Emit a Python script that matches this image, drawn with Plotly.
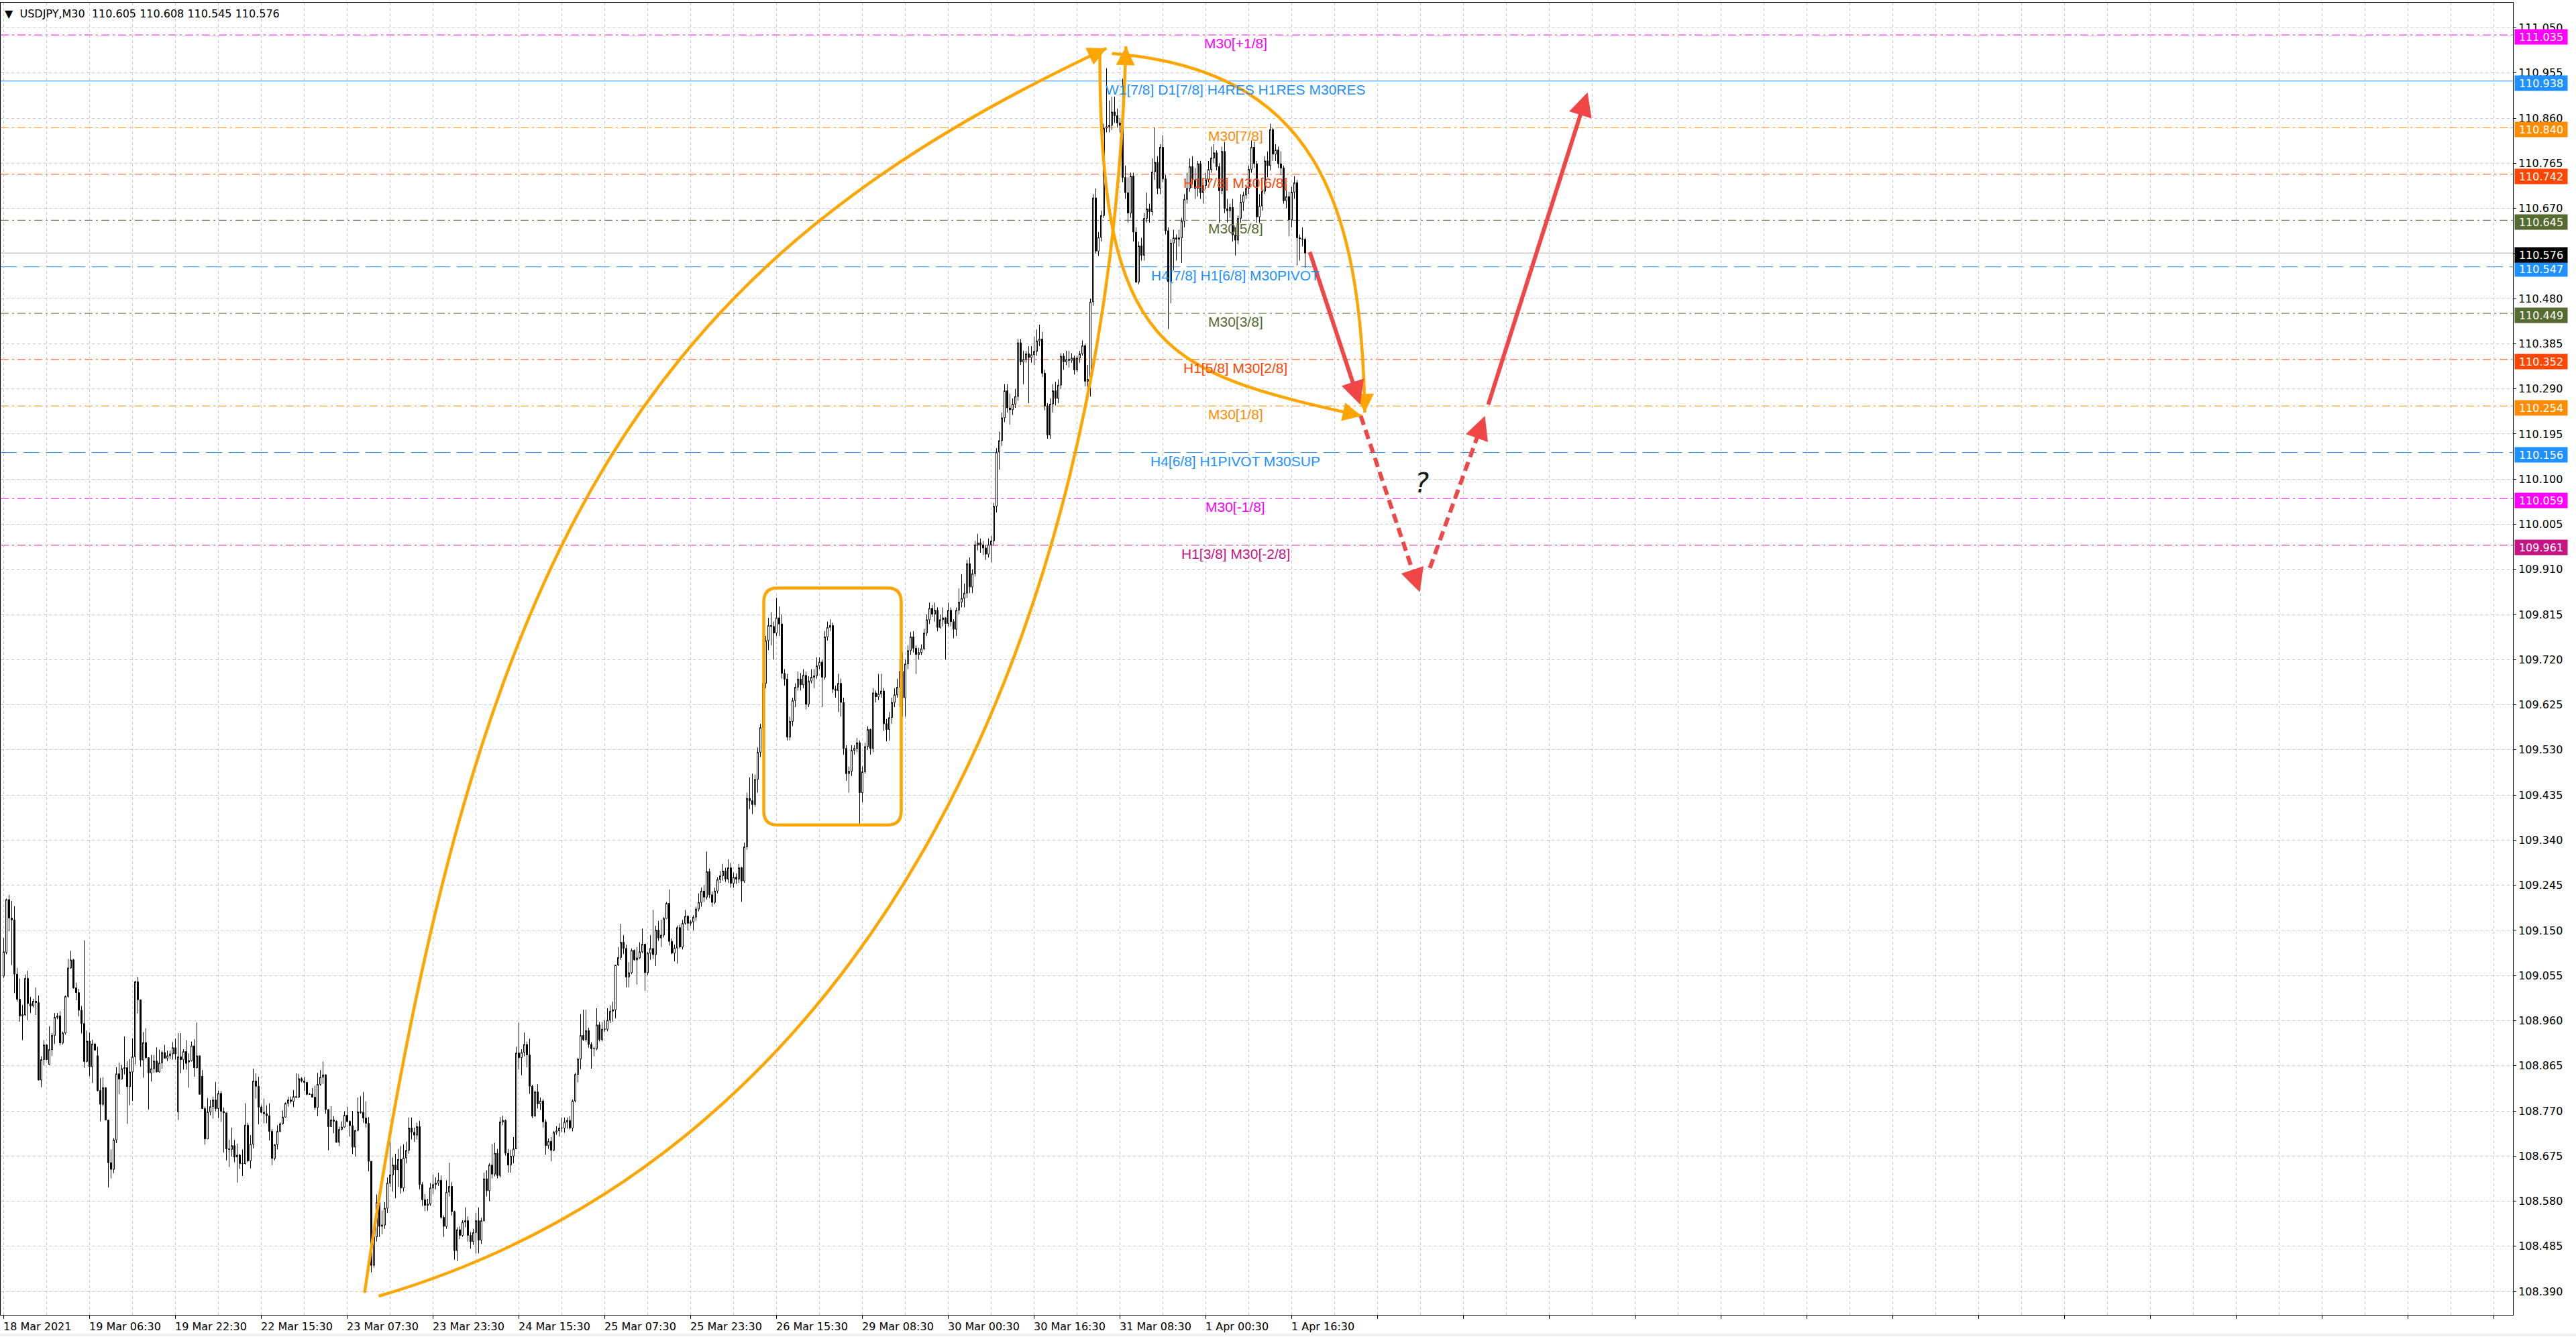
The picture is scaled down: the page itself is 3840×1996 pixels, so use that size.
import math
import plotly.graph_objects as go

# USDJPY M30, bar 0 = first bar on the chart (18 Mar 2021), one bar per 30 minutes
opens = [
    109.054, 109.104, 109.215, 109.176, 109.172, 109.058, 109.005, 108.970, 108.972, 109.049,
    108.996, 108.991, 109.001, 108.998, 108.835, 108.878, 108.909, 108.868, 108.899, 108.929,
    108.967, 108.970, 108.913, 108.934, 109.011, 109.071, 109.088, 109.029, 109.019, 108.982,
    108.954, 108.874, 108.917, 108.863, 108.911, 108.886, 108.813, 108.784, 108.819, 108.751,
    108.661, 108.647, 108.709, 108.848, 108.837, 108.859, 108.861, 108.821, 108.852, 108.884,
    109.042, 109.004, 108.877, 108.914, 108.882, 108.850, 108.859, 108.875, 108.852, 108.871,
    108.893, 108.881, 108.886, 108.890, 108.903, 108.768, 108.884, 108.878, 108.895, 108.873,
    108.876, 108.907, 108.861, 108.886, 108.843, 108.775, 108.711, 108.768, 108.779, 108.793,
    108.775, 108.807, 108.769, 108.766, 108.690, 108.689, 108.697, 108.673, 108.677, 108.659,
    108.659, 108.740, 108.665, 108.700, 108.833, 108.822, 108.778, 108.767, 108.764, 108.760,
    108.727, 108.670, 108.699, 108.727, 108.743, 108.757, 108.786, 108.793, 108.790, 108.800,
    108.799, 108.838, 108.833, 108.830, 108.805, 108.805, 108.799, 108.777, 108.826, 108.841,
    108.846, 108.773, 108.737, 108.751, 108.748, 108.704, 108.731, 108.736, 108.761, 108.748,
    108.739, 108.694, 108.729, 108.768, 108.767, 108.755, 108.744, 108.664, 108.445, 108.505,
    108.577, 108.527, 108.530, 108.565, 108.618, 108.635, 108.656, 108.646, 108.668, 108.608,
    108.671, 108.687, 108.734, 108.725, 108.719, 108.737, 108.615, 108.583, 108.571, 108.574,
    108.608, 108.615, 108.618, 108.624, 108.546, 108.527, 108.599, 108.611, 108.558, 108.476,
    108.520, 108.508, 108.536, 108.539, 108.508, 108.495, 108.514, 108.539, 108.498, 108.539,
    108.627, 108.602, 108.656, 108.637, 108.681, 108.634, 108.747, 108.750, 108.681, 108.656,
    108.675, 108.690, 108.892, 108.882, 108.893, 108.910, 108.888, 108.822, 108.759, 108.810,
    108.785, 108.791, 108.747, 108.697, 108.706, 108.687, 108.725, 108.728, 108.734, 108.734,
    108.747, 108.750, 108.734, 108.791, 108.847, 108.879, 108.929, 108.920, 108.939, 108.910,
    108.901, 108.901, 108.951, 108.920, 108.942, 108.942, 108.961, 108.980, 108.983, 109.077,
    109.093, 109.125, 109.112, 109.052, 109.061, 109.108, 109.088, 109.092, 109.105, 109.121,
    109.061, 109.102, 109.112, 109.099, 109.151, 109.134, 109.140, 109.175, 109.207, 109.127,
    109.102, 109.113, 109.156, 109.115, 109.165, 109.180, 109.165, 109.168, 109.178, 109.195,
    109.209, 109.233, 109.220, 109.274, 109.225, 109.209, 109.233, 109.257, 109.265, 109.275,
    109.258, 109.282, 109.249, 109.262, 109.258, 109.282, 109.254, 109.326, 109.428, 109.423,
    109.415, 109.468, 109.525, 109.577, 109.670, 109.760, 109.792, 109.790, 109.776, 109.808,
    109.795, 109.691, 109.679, 109.557, 109.590, 109.634, 109.662, 109.679, 109.667, 109.687,
    109.626, 109.675, 109.683, 109.686, 109.707, 109.715, 109.683, 109.768, 109.788, 109.792,
    109.658, 109.655, 109.670, 109.630, 109.533, 109.480, 109.485, 109.529, 109.533, 109.545,
    109.440, 109.484, 109.537, 109.573, 109.533, 109.650, 109.642, 109.648, 109.654, 109.585,
    109.573, 109.598, 109.630, 109.646, 109.662, 109.695, 109.640, 109.711, 109.739, 109.768,
    109.744, 109.731, 109.735, 109.743, 109.776, 109.804, 109.828, 109.816, 109.824, 109.788,
    109.804, 109.808, 109.796, 109.824, 109.800, 109.784, 109.824, 109.841, 109.849, 109.860,
    109.922, 109.873, 109.901, 109.962, 109.966, 109.962, 109.955, 109.942, 109.962, 109.970,
    110.043, 110.157, 110.181, 110.229, 110.286, 110.250, 110.246, 110.258, 110.274, 110.387,
    110.347, 110.352, 110.364, 110.356, 110.362, 110.369, 110.391, 110.395, 110.323, 110.254,
    110.193, 110.258, 110.286, 110.270, 110.298, 110.359, 110.347, 110.352, 110.350, 110.355,
    110.330, 110.355, 110.364, 110.381, 110.306, 110.310, 110.473, 110.692, 110.580, 110.609,
    110.655, 110.839, 110.842, 110.845, 110.873, 110.865, 110.850, 110.845, 110.735, 110.703,
    110.660, 110.738, 110.620, 110.515, 110.591, 110.571, 110.649, 110.669, 110.663, 110.747,
    110.767, 110.712, 110.799, 110.732, 110.623, 110.516, 110.597, 110.608, 110.605, 110.608,
    110.643, 110.689, 110.712, 110.758, 110.730, 110.712, 110.764, 110.703, 110.718, 110.730,
    110.752, 110.776, 110.787, 110.758, 110.707, 110.790, 110.669, 110.665, 110.672, 110.614,
    110.603, 110.649, 110.683, 110.698, 110.712, 110.752, 110.799, 110.764, 110.652, 110.675,
    110.706, 110.770, 110.760, 110.836, 110.784, 110.793, 110.764, 110.755, 110.686, 110.695,
    110.646, 110.704, 110.724, 110.608, 110.606, 110.605,
]
highs = [
    109.134, 109.217, 109.225, 109.212, 109.201, 109.071, 109.049, 108.993, 109.057, 109.065,
    109.010, 109.006, 109.030, 109.013, 108.885, 108.919, 108.910, 108.948, 108.934, 108.976,
    108.976, 108.980, 108.937, 109.013, 109.090, 109.107, 109.090, 109.040, 109.027, 108.991,
    109.129, 108.939, 108.935, 108.920, 108.913, 108.905, 108.839, 108.841, 108.819, 108.751,
    108.689, 108.713, 108.862, 108.872, 108.867, 108.927, 108.875, 108.879, 108.923, 109.044,
    109.052, 109.004, 108.936, 108.944, 108.882, 108.888, 108.888, 108.904, 108.899, 108.897,
    108.909, 108.897, 108.897, 108.915, 108.922, 108.934, 108.934, 108.900, 108.919, 108.891,
    108.916, 108.921, 108.956, 108.887, 108.856, 108.779, 108.797, 108.793, 108.800, 108.831,
    108.813, 108.812, 108.777, 108.766, 108.709, 108.735, 108.709, 108.701, 108.680, 108.689,
    108.786, 108.745, 108.719, 108.859, 108.849, 108.842, 108.782, 108.796, 108.782, 108.786,
    108.732, 108.700, 108.740, 108.746, 108.771, 108.788, 108.800, 108.800, 108.814, 108.849,
    108.848, 108.841, 108.841, 108.831, 108.808, 108.818, 108.823, 108.850, 108.856, 108.874,
    108.847, 108.773, 108.780, 108.759, 108.750, 108.737, 108.748, 108.769, 108.779, 108.750,
    108.770, 108.730, 108.798, 108.801, 108.810, 108.790, 108.757, 108.664, 108.520, 108.594,
    108.580, 108.560, 108.578, 108.630, 108.709, 108.672, 108.680, 108.690, 108.696, 108.700,
    108.705, 108.756, 108.756, 108.735, 108.745, 108.749, 108.620, 108.595, 108.585, 108.618,
    108.636, 108.630, 108.640, 108.634, 108.550, 108.624, 108.661, 108.620, 108.560, 108.525,
    108.527, 108.540, 108.567, 108.548, 108.515, 108.522, 108.555, 108.567, 108.545, 108.640,
    108.645, 108.660, 108.700, 108.703, 108.690, 108.757, 108.760, 108.752, 108.690, 108.688,
    108.715, 108.905, 108.956, 108.900, 108.935, 108.916, 108.922, 108.825, 108.813, 108.826,
    108.798, 108.795, 108.752, 108.712, 108.715, 108.728, 108.738, 108.744, 108.756, 108.756,
    108.756, 108.759, 108.794, 108.850, 108.882, 108.974, 108.983, 108.983, 108.945, 108.915,
    108.905, 108.986, 108.957, 108.957, 108.961, 108.986, 108.992, 109.000, 109.077, 109.115,
    109.164, 109.140, 109.120, 109.083, 109.112, 109.110, 109.115, 109.125, 109.154, 109.122,
    109.105, 109.140, 109.193, 109.160, 109.170, 109.172, 109.178, 109.210, 109.236, 109.133,
    109.120, 109.160, 109.162, 109.172, 109.193, 109.182, 109.172, 109.182, 109.200, 109.228,
    109.240, 109.245, 109.316, 109.280, 109.232, 109.240, 109.262, 109.275, 109.290, 109.282,
    109.300, 109.292, 109.272, 109.270, 109.290, 109.284, 109.335, 109.440, 109.472, 109.480,
    109.478, 109.535, 109.585, 109.690, 109.770, 109.808, 109.820, 109.800, 109.850, 109.832,
    109.815, 109.700, 109.690, 109.600, 109.640, 109.670, 109.695, 109.692, 109.700, 109.695,
    109.685, 109.700, 109.700, 109.725, 109.725, 109.720, 109.780, 109.800, 109.805, 109.798,
    109.665, 109.690, 109.680, 109.640, 109.540, 109.495, 109.540, 109.540, 109.555, 109.550,
    109.495, 109.545, 109.580, 109.575, 109.660, 109.655, 109.690, 109.690, 109.660, 109.595,
    109.610, 109.640, 109.660, 109.680, 109.720, 109.735, 109.720, 109.750, 109.778, 109.780,
    109.750, 109.745, 109.752, 109.785, 109.815, 109.840, 109.835, 109.840, 109.830, 109.815,
    109.830, 109.810, 109.840, 109.830, 109.805, 109.830, 109.870, 109.900, 109.880, 109.930,
    109.935, 109.910, 109.970, 109.985, 109.975, 109.970, 109.960, 109.975, 109.980, 110.050,
    110.165, 110.200, 110.240, 110.300, 110.300, 110.280, 110.270, 110.290, 110.395, 110.395,
    110.370, 110.370, 110.380, 110.380, 110.400, 110.415, 110.425, 110.410, 110.330, 110.260,
    110.270, 110.300, 110.305, 110.310, 110.365, 110.365, 110.370, 110.370, 110.365, 110.360,
    110.360, 110.370, 110.392, 110.385, 110.340, 110.480, 110.700, 110.712, 110.620, 110.665,
    110.848, 110.965, 110.897, 110.905, 110.905, 110.880, 110.860, 110.943, 110.760, 110.735,
    110.745, 110.745, 110.630, 110.600, 110.608, 110.660, 110.703, 110.680, 110.775, 110.840,
    110.780, 110.805, 110.824, 110.740, 110.630, 110.605, 110.625, 110.615, 110.625, 110.650,
    110.700, 110.745, 110.775, 110.780, 110.755, 110.770, 110.770, 110.725, 110.745, 110.770,
    110.800, 110.805, 110.792, 110.765, 110.800, 110.810, 110.690, 110.680, 110.690, 110.630,
    110.655, 110.700, 110.705, 110.720, 110.760, 110.813, 110.810, 110.770, 110.700, 110.735,
    110.780, 110.790, 110.848, 110.840, 110.805, 110.800, 110.790, 110.760, 110.720, 110.705,
    110.715, 110.738, 110.730, 110.615, 110.630, 110.608,
]
lows = [
    109.050, 109.100, 109.148, 109.077, 109.018, 109.000, 108.958, 108.919, 108.970, 108.961,
    108.976, 108.988, 108.972, 108.834, 108.820, 108.866, 108.877, 108.867, 108.886, 108.911,
    108.963, 108.908, 108.910, 108.931, 109.008, 109.069, 109.027, 109.003, 108.969, 108.933,
    108.861, 108.872, 108.843, 108.829, 108.897, 108.811, 108.748, 108.780, 108.750, 108.609,
    108.628, 108.639, 108.702, 108.805, 108.836, 108.847, 108.743, 108.782, 108.791, 108.868,
    108.975, 108.863, 108.840, 108.880, 108.773, 108.832, 108.850, 108.851, 108.851, 108.859,
    108.880, 108.875, 108.879, 108.878, 108.878, 108.751, 108.849, 108.857, 108.857, 108.819,
    108.874, 108.842, 108.859, 108.805, 108.774, 108.699, 108.711, 108.761, 108.754, 108.769,
    108.755, 108.747, 108.682, 108.666, 108.652, 108.674, 108.662, 108.619, 108.648, 108.633,
    108.657, 108.662, 108.649, 108.691, 108.796, 108.742, 108.765, 108.744, 108.744, 108.708,
    108.656, 108.666, 108.689, 108.725, 108.741, 108.756, 108.779, 108.786, 108.778, 108.797,
    108.797, 108.830, 108.812, 108.803, 108.804, 108.798, 108.772, 108.759, 108.823, 108.827,
    108.764, 108.687, 108.737, 108.723, 108.703, 108.696, 108.729, 108.735, 108.746, 108.716,
    108.679, 108.674, 108.727, 108.764, 108.745, 108.735, 108.643, 108.430, 108.440, 108.495,
    108.505, 108.510, 108.522, 108.555, 108.610, 108.600, 108.586, 108.610, 108.596, 108.600,
    108.660, 108.680, 108.710, 108.705, 108.710, 108.605, 108.570, 108.559, 108.560, 108.570,
    108.595, 108.605, 108.612, 108.543, 108.505, 108.522, 108.590, 108.550, 108.457, 108.454,
    108.500, 108.505, 108.525, 108.495, 108.480, 108.488, 108.470, 108.470, 108.490, 108.537,
    108.590, 108.580, 108.628, 108.632, 108.628, 108.630, 108.740, 108.676, 108.640, 108.640,
    108.660, 108.690, 108.857, 108.845, 108.885, 108.862, 108.806, 108.755, 108.758, 108.775,
    108.772, 108.735, 108.678, 108.690, 108.664, 108.685, 108.720, 108.716, 108.725, 108.724,
    108.733, 108.731, 108.727, 108.788, 108.830, 108.858, 108.917, 108.916, 108.903, 108.859,
    108.885, 108.898, 108.916, 108.916, 108.936, 108.938, 108.955, 108.958, 108.965, 109.075,
    109.088, 109.100, 109.030, 109.030, 109.058, 109.086, 109.036, 109.090, 109.102, 109.023,
    109.056, 109.088, 109.090, 109.075, 109.128, 109.115, 109.135, 109.175, 109.118, 109.100,
    109.085, 109.080, 109.112, 109.110, 109.162, 109.150, 109.160, 109.150, 109.170, 109.190,
    109.200, 109.210, 109.215, 109.218, 109.200, 109.205, 109.228, 109.250, 109.255, 109.252,
    109.250, 109.240, 109.240, 109.248, 109.250, 109.210, 109.250, 109.320, 109.405, 109.395,
    109.410, 109.440, 109.515, 109.560, 109.660, 109.740, 109.750, 109.720, 109.770, 109.770,
    109.680, 109.665, 109.550, 109.550, 109.580, 109.620, 109.655, 109.655, 109.660, 109.615,
    109.620, 109.670, 109.660, 109.680, 109.700, 109.620, 109.678, 109.760, 109.780, 109.650,
    109.640, 109.610, 109.600, 109.520, 109.465, 109.440, 109.475, 109.520, 109.525, 109.375,
    109.420, 109.480, 109.530, 109.520, 109.525, 109.630, 109.635, 109.640, 109.570, 109.548,
    109.550, 109.585, 109.620, 109.640, 109.620, 109.600, 109.600, 109.700, 109.730, 109.735,
    109.690, 109.720, 109.730, 109.740, 109.770, 109.795, 109.810, 109.800, 109.780, 109.785,
    109.790, 109.720, 109.790, 109.790, 109.765, 109.770, 109.815, 109.830, 109.830, 109.850,
    109.860, 109.860, 109.895, 109.950, 109.945, 109.940, 109.930, 109.935, 109.925, 109.960,
    110.030, 110.120, 110.170, 110.220, 110.240, 110.215, 110.235, 110.250, 110.265, 110.340,
    110.300, 110.345, 110.260, 110.345, 110.340, 110.360, 110.380, 110.315, 110.245, 110.185,
    110.185, 110.240, 110.255, 110.260, 110.290, 110.330, 110.340, 110.335, 110.345, 110.320,
    110.325, 110.345, 110.360, 110.295, 110.280, 110.274, 110.465, 110.575, 110.570, 110.600,
    110.650, 110.830, 110.830, 110.835, 110.850, 110.840, 110.830, 110.725, 110.690, 110.640,
    110.650, 110.600, 110.513, 110.510, 110.560, 110.560, 110.640, 110.640, 110.655, 110.730,
    110.700, 110.700, 110.725, 110.615, 110.416, 110.470, 110.540, 110.560, 110.590, 110.555,
    110.630, 110.680, 110.705, 110.720, 110.690, 110.695, 110.690, 110.680, 110.710, 110.725,
    110.745, 110.765, 110.750, 110.640, 110.700, 110.660, 110.640, 110.650, 110.600, 110.571,
    110.595, 110.640, 110.665, 110.690, 110.700, 110.745, 110.755, 110.640, 110.640, 110.665,
    110.700, 110.735, 110.750, 110.770, 110.770, 110.755, 110.740, 110.680, 110.670, 110.611,
    110.630, 110.690, 110.550, 110.560, 110.590, 110.545,
]
closes = [
    109.105, 109.215, 109.176, 109.172, 109.058, 109.005, 108.970, 108.973, 109.049, 108.996,
    108.991, 109.001, 108.998, 108.835, 108.878, 108.909, 108.878, 108.899, 108.929, 108.967,
    108.970, 108.913, 108.934, 109.011, 109.071, 109.088, 109.029, 109.019, 108.982, 108.954,
    108.874, 108.917, 108.863, 108.911, 108.898, 108.813, 108.784, 108.819, 108.751, 108.661,
    108.647, 108.709, 108.848, 108.837, 108.859, 108.861, 108.821, 108.852, 108.884, 109.042,
    109.004, 108.877, 108.914, 108.882, 108.850, 108.859, 108.875, 108.852, 108.871, 108.893,
    108.881, 108.886, 108.890, 108.903, 108.890, 108.884, 108.878, 108.895, 108.870, 108.876,
    108.907, 108.861, 108.886, 108.805, 108.775, 108.711, 108.768, 108.779, 108.793, 108.775,
    108.807, 108.769, 108.766, 108.690, 108.689, 108.697, 108.673, 108.677, 108.659, 108.659,
    108.740, 108.665, 108.700, 108.833, 108.822, 108.778, 108.767, 108.764, 108.760, 108.727,
    108.670, 108.699, 108.727, 108.743, 108.757, 108.786, 108.793, 108.790, 108.800, 108.799,
    108.838, 108.833, 108.830, 108.805, 108.805, 108.799, 108.777, 108.826, 108.841, 108.846,
    108.773, 108.737, 108.751, 108.748, 108.704, 108.731, 108.736, 108.761, 108.748, 108.739,
    108.694, 108.729, 108.768, 108.767, 108.755, 108.744, 108.664, 108.445, 108.505, 108.577,
    108.527, 108.530, 108.565, 108.618, 108.635, 108.656, 108.646, 108.668, 108.608, 108.671,
    108.687, 108.734, 108.725, 108.719, 108.737, 108.615, 108.583, 108.571, 108.574, 108.608,
    108.615, 108.618, 108.624, 108.546, 108.527, 108.599, 108.611, 108.558, 108.476, 108.520,
    108.508, 108.536, 108.539, 108.508, 108.495, 108.514, 108.539, 108.498, 108.539, 108.627,
    108.602, 108.656, 108.637, 108.681, 108.634, 108.747, 108.750, 108.681, 108.656, 108.675,
    108.690, 108.892, 108.882, 108.893, 108.910, 108.888, 108.822, 108.759, 108.810, 108.785,
    108.791, 108.747, 108.697, 108.706, 108.687, 108.725, 108.728, 108.734, 108.734, 108.747,
    108.750, 108.734, 108.791, 108.847, 108.879, 108.929, 108.920, 108.939, 108.910, 108.901,
    108.901, 108.951, 108.920, 108.942, 108.942, 108.961, 108.980, 108.983, 109.077, 109.093,
    109.125, 109.112, 109.052, 109.061, 109.108, 109.088, 109.092, 109.105, 109.121, 109.061,
    109.102, 109.112, 109.099, 109.151, 109.134, 109.140, 109.175, 109.207, 109.127, 109.102,
    109.113, 109.156, 109.115, 109.165, 109.180, 109.165, 109.168, 109.178, 109.195, 109.209,
    109.233, 109.220, 109.274, 109.225, 109.209, 109.233, 109.257, 109.265, 109.275, 109.258,
    109.282, 109.249, 109.262, 109.258, 109.282, 109.254, 109.326, 109.428, 109.423, 109.415,
    109.468, 109.525, 109.577, 109.670, 109.760, 109.792, 109.790, 109.776, 109.808, 109.795,
    109.691, 109.679, 109.557, 109.590, 109.634, 109.662, 109.679, 109.667, 109.687, 109.626,
    109.675, 109.683, 109.686, 109.707, 109.715, 109.683, 109.768, 109.788, 109.792, 109.658,
    109.655, 109.670, 109.630, 109.533, 109.480, 109.485, 109.529, 109.533, 109.545, 109.440,
    109.484, 109.537, 109.573, 109.533, 109.650, 109.642, 109.648, 109.654, 109.585, 109.573,
    109.598, 109.630, 109.646, 109.662, 109.695, 109.640, 109.711, 109.739, 109.768, 109.744,
    109.731, 109.735, 109.743, 109.776, 109.804, 109.828, 109.816, 109.824, 109.788, 109.804,
    109.808, 109.796, 109.824, 109.800, 109.784, 109.824, 109.841, 109.849, 109.860, 109.922,
    109.873, 109.901, 109.962, 109.966, 109.962, 109.955, 109.942, 109.962, 109.970, 110.043,
    110.157, 110.181, 110.229, 110.286, 110.250, 110.246, 110.258, 110.274, 110.387, 110.347,
    110.352, 110.364, 110.356, 110.362, 110.369, 110.391, 110.395, 110.323, 110.254, 110.193,
    110.258, 110.286, 110.270, 110.298, 110.359, 110.347, 110.352, 110.350, 110.355, 110.330,
    110.355, 110.364, 110.381, 110.306, 110.310, 110.473, 110.692, 110.580, 110.609, 110.655,
    110.839, 110.842, 110.845, 110.873, 110.865, 110.850, 110.845, 110.735, 110.703, 110.660,
    110.738, 110.620, 110.515, 110.591, 110.571, 110.649, 110.669, 110.663, 110.747, 110.767,
    110.712, 110.799, 110.732, 110.623, 110.516, 110.597, 110.608, 110.605, 110.608, 110.643,
    110.689, 110.712, 110.758, 110.730, 110.712, 110.764, 110.703, 110.718, 110.730, 110.752,
    110.776, 110.787, 110.758, 110.707, 110.790, 110.669, 110.665, 110.672, 110.614, 110.603,
    110.649, 110.683, 110.698, 110.712, 110.752, 110.799, 110.764, 110.652, 110.675, 110.706,
    110.770, 110.760, 110.836, 110.784, 110.793, 110.764, 110.755, 110.686, 110.695, 110.646,
    110.704, 110.724, 110.608, 110.606, 110.605, 110.576,
]

# time axis: a label every 32 bars (16 hours)
time_labels = [
    "18 Mar 2021", "19 Mar 06:30", "19 Mar 22:30", "22 Mar 15:30", "23 Mar 07:30",
    "23 Mar 23:30", "24 Mar 15:30", "25 Mar 07:30", "25 Mar 23:30", "26 Mar 15:30",
    "29 Mar 08:30", "30 Mar 00:30", "30 Mar 16:30", "31 Mar 08:30", "1 Apr 00:30",
    "1 Apr 16:30",
]
label_bars = [32 * k for k in range(len(time_labels))]

# Murrey / pivot levels
level_prices = [111.035, 110.938, 110.840, 110.742, 110.645, 110.547,
                110.449, 110.352, 110.254, 110.156, 110.059, 109.961]
level_names = ["M30[+1/8]", "W1[7/8] D1[7/8] H4RES H1RES M30RES", "M30[7/8]",
               "H1[7/8] M30[6/8]", "M30[5/8]", "H4[7/8] H1[6/8] M30PIVOT",
               "M30[3/8]", "H1[5/8] M30[2/8]", "M30[1/8]",
               "H4[6/8] H1PIVOT M30SUP", "M30[-1/8]", "H1[3/8] M30[-2/8]"]
level_colors = ["#FF00FF", "#1E90FF", "#FF8C00", "#FF4500", "#556B2F", "#1E90FF",
                "#556B2F", "#FF4500", "#FF8C00", "#1E90FF", "#FF00FF", "#C71585"]
level_dash = ["dashdot", "solid", "dashdot", "dashdot", "dashdot", "long",
              "dashdot", "dashdot", "dashdot", "long", "dashdot", "dashdot"]
last_price = 110.576
header = "\u25bc\u00a0\u00a0USDJPY,M30\u00a0\u00a0110.605 110.608 110.545 110.576"

# drawings (bar index, price)
arc_left = [(134.5, 108.387), (176.0, 109.996), (241.0, 110.558), (411.0, 111.007)]
arc_right = [(139.75, 108.380), (319.75, 108.677), (411.5, 109.740), (418.25, 111.011)]
loop_low = [(408.5, 110.997), (408.5, 110.362), (432.75, 110.326), (506.0, 110.233)]
loop_high = [(413.0, 110.996), (488.0, 110.962), (505.75, 110.692), (507.25, 110.240)]
box = (283.25, 334.5, 109.372, 109.871)
red_arrows = [((486.75, 110.578), (505.5, 110.257), "solid"),
              ((505.75, 110.233), (527.75, 109.862), "dash"),
              ((531.5, 109.913), (552.0, 110.233), "dash"),
              ((553.25, 110.257), (590.25, 110.914), "solid")]
question = (528.5, 110.092)

W, H = 3840, 1996
ML, MR, MT, MB = 1, 94, 4, 36
X0 = -1.125          # bar centres land on half pixels -> crisp 1px wicks
X1 = X0 + (W - ML - MR) / 4.0
Y0 = 108.3407
Y1 = 111.1030
PXX = (W - ML - MR) / (X1 - X0)
PXY = (H - MT - MB) / (Y1 - Y0)

ORANGE = "#FFA500"
RED = "#F04646"
GRID = "#C6C6C6"

fig = go.Figure(go.Candlestick(
    x=list(range(len(closes))), open=opens, high=highs, low=lows, close=closes,
    increasing=dict(line=dict(color="black", width=1), fillcolor="white"),
    decreasing=dict(line=dict(color="black", width=1), fillcolor="black"),
    whiskerwidth=0, hoverinfo="skip", showlegend=False,
))

dash_map = {"dashdot": "12px,5px,3px,5px", "long": "24px,10px", "solid": "solid"}
for p, c, d in zip(level_prices, level_colors, level_dash):
    fig.add_shape(type="line", xref="paper", x0=0, x1=1, yref="y", y0=p, y1=p,
                  line=dict(color=c, width=1, dash=dash_map[d]), layer="below")
fig.add_shape(type="line", xref="paper", x0=0, x1=1, yref="y", y0=last_price, y1=last_price,
              line=dict(color="#B4B4B4", width=1), layer="below")

for p, c, t in zip(level_prices, level_colors, level_names):
    fig.add_annotation(x=459, y=p, xref="x", yref="y", text=t, showarrow=False,
                       xanchor="center", yanchor="top", yshift=1,
                       font=dict(family="Arial", size=21, color=c))

# price boxes on the right axis
for p, c in list(zip(level_prices, level_colors)) + [(last_price, "black")]:
    fig.add_annotation(x=1, xref="paper", y=p, yref="y", text=f"{p:.3f}", showarrow=False,
                       xanchor="left", xshift=2, yanchor="middle", yshift=-3,
                       width=76, height=20, bgcolor=c, borderpad=1,
                       font=dict(family="DejaVu Sans", size=16, color="white"))

for b, t in zip(label_bars, time_labels):
    fig.add_annotation(x=b, xref="x", y=0, yref="paper", text=t, showarrow=False,
                       xanchor="left", xshift=-3, yanchor="middle", yshift=-17,
                       font=dict(family="DejaVu Sans", size=16, color="black"))

fig.add_annotation(x=0, xref="paper", y=1, yref="paper", text=header, showarrow=False,
                   xanchor="left", xshift=4, yanchor="middle", yshift=-16,
                   font=dict(family="DejaVu Sans", size=16, color="black"))

# light grey window strip under the time labels
fig.add_shape(type="rect", xref="paper", yref="paper", x0=-0.01, x1=1.03,
              y0=-(H - MT - 4) / (H - MT - MB) + 1, y1=-(H - MT - 8) / (H - MT - MB) + 1,
              fillcolor="#F0F0F0", line=dict(width=0))


def bezier_path(pts):
    (a, b), (c, d), (e, f), (g, h) = pts
    return f"M {a},{b} C {c},{d} {e},{f} {g},{h}"


def head(tip, frm, color, width=4, size=1.5):
    dx = (tip[0] - frm[0]) * PXX
    dy = -(tip[1] - frm[1]) * PXY
    n = math.hypot(dx, dy)
    fig.add_annotation(x=tip[0], y=tip[1], xref="x", yref="y", text="",
                       showarrow=True, arrowhead=2, arrowsize=size, arrowwidth=width,
                       arrowcolor=color, ax=-dx / n * 16, ay=-dy / n * 16)


def back_off(tip, frm, px):
    dx = (tip[0] - frm[0]) * PXX
    dy = (tip[1] - frm[1]) * PXY
    n = math.hypot(dx, dy)
    return (tip[0] - dx / n * px / PXX, tip[1] - dy / n * px / PXY)


for pts in (arc_left, arc_right, loop_low, loop_high):
    fig.add_shape(type="path", xref="x", yref="y", path=bezier_path(pts),
                  line=dict(color=ORANGE, width=4.5))
    head(pts[3], pts[2], ORANGE, width=4, size=1.4)

x0, x1, y0, y1 = box
rx, ry = 5.0, 0.03
fig.add_shape(type="path", xref="x", yref="y", line=dict(color=ORANGE, width=4.5),
              path=(f"M {x0 + rx},{y1} L {x1 - rx},{y1} Q {x1},{y1} {x1},{y1 - ry} "
                    f"L {x1},{y0 + ry} Q {x1},{y0} {x1 - rx},{y0} L {x0 + rx},{y0} "
                    f"Q {x0},{y0} {x0},{y0 + ry} L {x0},{y1 - ry} Q {x0},{y1} {x0 + rx},{y1} Z"))

for start, tip, style in red_arrows:
    end = back_off(tip, start, 14)
    fig.add_shape(type="line", xref="x", yref="y", x0=start[0], y0=start[1], x1=end[0], y1=end[1],
                  line=dict(color=RED, width=6, dash="solid" if style == "solid" else "14px,8px"))
    head(tip, start, RED, width=5, size=1.4)

fig.add_annotation(x=question[0], y=question[1], xref="x", yref="y", text="?", showarrow=False,
                   font=dict(family="DejaVu Sans", size=40, color="#1A1A1A", style="italic"))

fig.update_layout(
    width=W, height=H, margin=dict(l=ML, r=MR, t=MT, b=MB),
    paper_bgcolor="white", plot_bgcolor="white", showlegend=False,
    xaxis=dict(range=[X0, X1], rangeslider=dict(visible=False), tickmode="linear",
               tick0=0, dtick=32, showticklabels=False, ticks="outside", ticklen=5,
               tickcolor="black", showgrid=True, gridcolor=GRID, griddash="4px,4px",
               minor=dict(dtick=16, tick0=0, showgrid=True, gridcolor=GRID, griddash="4px,4px"),
               zeroline=False, showline=True, linecolor="black", linewidth=1, mirror=True),
    yaxis=dict(range=[Y0, Y1], side="right", tickmode="linear", tick0=108.390, dtick=0.095,
               tickformat=".3f", ticks="outside", ticklen=4, tickcolor="black",
               tickfont=dict(family="DejaVu Sans", size=16, color="black"),
               showgrid=True, gridcolor=GRID, griddash="4px,4px", zeroline=False,
               showline=True, linecolor="black", linewidth=1, mirror=True),
)

fig.write_html("out.html", config={"displayModeBar": False},
               post_script="document.body.style.margin='0';")
